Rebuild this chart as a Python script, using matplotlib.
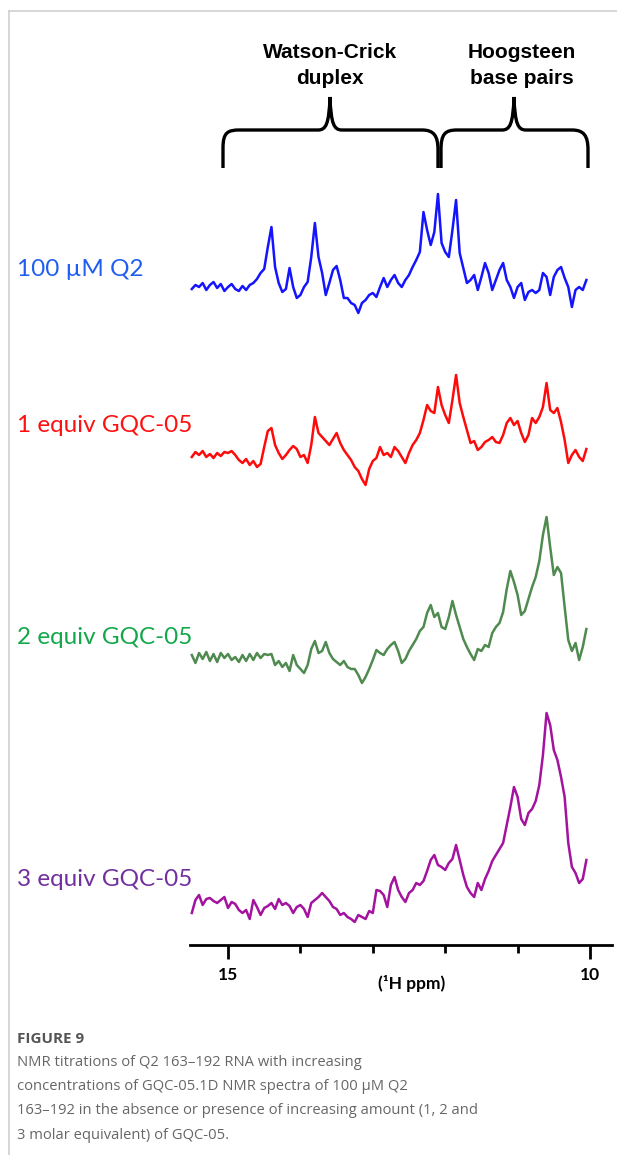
import numpy as np
import matplotlib
matplotlib.use("Agg")
import matplotlib.pyplot as plt
from matplotlib.path import Path
from matplotlib.patches import PathPatch

# chemical shift grid (ppm), 15.50 -> 10.05
ppm = np.round(np.arange(15.50, 10.049, -0.05), 2)

# intensities (arbitrary units, 0 = own baseline)
q2_100uM = [-2, 2, 0, 4, -3, 2, 5, -1, 3, -4,
            0, 3, -2, -4, 1, -3, 2, 4, 8, 14,
            18, 40, 60, 20, 4, -5, -2, 19, 0, -11,
            -8, 0, 5, 30, 64, 30, 14, -8, 4, 17,
            21, 7, -11, -11, -16, -18, -26, -16, -13, -8,
            -6, -10, 0, 9, 0, 7, 12, 4, 0, 7,
            12, 20, 27, 35, 75, 57, 42, 55, 93, 44,
            35, 30, 57, 87, 34, 19, 4, 7, 12, -3,
            10, 24, 14, -3, 7, 17, 24, 7, 0, -11,
            0, 4, -13, -5, -3, -6, -3, 14, 10, -8,
            10, 17, 20, 9, 0, -20, -3, 0, -3, 7]

equiv_1 = [-2, 3, 0, 4, -2, 1, -3, 2, -1, 3,
           2, 4, 0, -5, -8, -4, -10, -6, -12, -9,
           8, 24, 27, 10, 2, -4, 0, 5, 9, 6,
           -2, 0, -8, 10, 38, 22, 18, 14, 10, 16,
           22, 12, 5, 0, -5, -12, -16, -24, -30, -14,
           -6, -3, 8, 0, 2, -2, 8, 4, -2, -8,
           2, 10, 15, 22, 35, 50, 44, 42, 68, 50,
           40, 32, 55, 80, 52, 38, 25, 12, 14, 5,
           8, 13, 15, 18, 13, 12, 20, 32, 37, 30,
           34, 22, 13, 20, 37, 32, 38, 48, 72, 45,
           42, 47, 33, 15, -8, 0, 5, -2, -6, 6]

equiv_2 = [2, -6, 4, -2, 5, -4, 3, -5, 4, -1,
           3, -3, 0, -5, 2, -4, 3, -3, 4, -1,
           3, 2, 3, -8, -4, -10, -6, -14, 2, -8,
           -12, -16, -8, 8, 16, 4, 6, 15, 4, -2,
           -5, -8, -4, -10, -12, -12, -18, -26, -20, -12,
           -3, 7, 4, 2, 8, 12, 15, 6, -6, -2,
           6, 12, 18, 26, 30, 44, 52, 40, 44, 30,
           28, 40, 56, 42, 30, 18, 10, 3, -3, 8,
           6, 12, 10, 24, 30, 34, 45, 68, 86, 75,
           62, 42, 46, 58, 70, 80, 96, 122, 140, 110,
           82, 90, 84, 50, 17, 6, 14, -3, 10, 28]

equiv_3 = [-8, 5, 10, 0, 6, 7, 4, 2, 5, 8,
           -3, 3, 1, -5, -8, -5, -14, 5, -2, -10,
           -3, -1, 2, -4, 6, 0, 2, -1, -8, -2,
           0, -4, -12, 2, 5, 8, 12, 8, 4, -2,
           -4, -10, -8, -12, -14, -17, -10, -12, -14, -6,
           -8, 15, 14, 10, -2, 20, 28, 15, 8, 3,
           12, 15, 22, 20, 24, 34, 45, 50, 40, 38,
           35, 42, 46, 60, 45, 30, 18, 12, 8, 22,
           15, 26, 34, 44, 50, 56, 62, 80, 98, 118,
           108, 86, 80, 92, 96, 104, 120, 150, 192, 180,
           155, 145, 128, 108, 62, 38, 32, 22, 26, 45]

labels = ["100 \u00b5M Q2", "1 equiv GQC-05", "2 equiv GQC-05", "3 equiv GQC-05"]
spectra = [q2_100uM, equiv_1, equiv_2, equiv_3]
line_colors = ["#1414ff", "#ff0a0a", "#4f8a4f", "#a3139f"]
text_colors = ["#1f5ef0", "#ff1010", "#12a84a", "#7030a0"]
offsets = [658, 490, 288, 40]
label_rows = [270, 425, 637, 880]

W, H = 617, 1155
fig = plt.figure(figsize=(W / 100, H / 100), dpi=100)

# main spectrum axes, placed in pixel terms
ax = fig.add_axes([190 / W, 1 - 945 / H, (612 - 190) / W, (945 - 185) / H])
ax.set_xlim(15.525, 9.696)
ax.set_ylim(0, 760)
for s in ["top", "left", "right"]:
    ax.spines[s].set_visible(False)
ax.spines["bottom"].set_linewidth(2)
ax.set_yticks([])
ax.set_xticks([15, 10])
ax.set_xticks([14, 13, 12, 11], minor=True)
ax.tick_params(axis="x", which="major", length=10, width=2, pad=6)
ax.tick_params(axis="x", which="minor", length=6, width=2)
ax.set_xticklabels(["15", "10"], fontsize=12.5, fontweight="bold", family="Lato")

for y, off, c in zip(spectra, offsets, line_colors):
    ax.plot(ppm, np.array(y) + off, color=c, lw=1.8, clip_on=False)

# overlay in pixel coordinates for text and braces
ov = fig.add_axes([0, 0, 1, 1], facecolor="none")
ov.set_xlim(0, W)
ov.set_ylim(H, 0)
ov.axis("off")

for lab, row, c in zip(labels, label_rows, text_colors):
    ov.text(17, row, lab, color=c, fontsize=17.5, family="Lato", va="center", ha="left")

ov.text(412, 983, "(\u00b9H ppm)", fontsize=12.5, fontweight="bold", family="Lato",
        ha="center", va="center")

# braces
V = [Path.MOVETO, Path.LINETO, Path.CURVE4, Path.CURVE4, Path.CURVE4, Path.LINETO,
     Path.CURVE4, Path.CURVE4, Path.CURVE4, Path.CURVE4, Path.CURVE4, Path.CURVE4,
     Path.LINETO, Path.CURVE4, Path.CURVE4, Path.CURVE4, Path.LINETO]
left_brace = [(223, 168), (223, 148), (223, 132), (228, 130), (240, 130), (318, 130),
              (326, 130), (329, 124), (330, 97), (331, 124), (334, 130), (342, 130),
              (422, 130), (434, 130), (438, 136), (438, 150), (438, 168)]
right_brace = [(441, 168), (441, 150), (441, 134), (445, 130), (457, 130), (502, 130),
               (510, 130), (513, 124), (514, 97), (515, 124), (518, 130), (526, 130),
               (572, 130), (584, 130), (588, 136), (588, 150), (588, 168)]
for pts in [left_brace, right_brace]:
    ov.add_patch(PathPatch(Path(pts, V), fill=False, lw=2.4, color="black",
                           capstyle="butt", joinstyle="miter"))

for txt, cx, cy in [("Watson-Crick", 330, 53), ("duplex", 330, 79),
                    ("Hoogsteen", 522, 53), ("base pairs", 522, 79)]:
    ov.text(cx, cy, txt, fontsize=15, fontweight="bold", family="Liberation Sans",
            ha="center", va="center")

# frame lines of the page
ov.plot([9, W], [11, 11], color="#cccccc", lw=1.1)
ov.plot([9, 9], [11, H], color="#cccccc", lw=1.1)

# caption
ov.text(17, 1039, "FIGURE 9", fontsize=11, fontweight="bold", family="Open Sans",
        color="#555555", va="center")
caption = ["NMR titrations of Q2 163\u2013192 RNA with increasing",
           "concentrations of GQC-05.1D NMR spectra of 100 \u00b5M Q2",
           "163\u2013192 in the absence or presence of increasing amount (1, 2 and",
           "3 molar equivalent) of GQC-05."]
for k, line in enumerate(caption):
    ov.text(17, 1062 + 24.5 * k, line, fontsize=10.6, family="Open Sans",
            color="#666666", va="center")

fig.savefig("out.png", dpi=100)
